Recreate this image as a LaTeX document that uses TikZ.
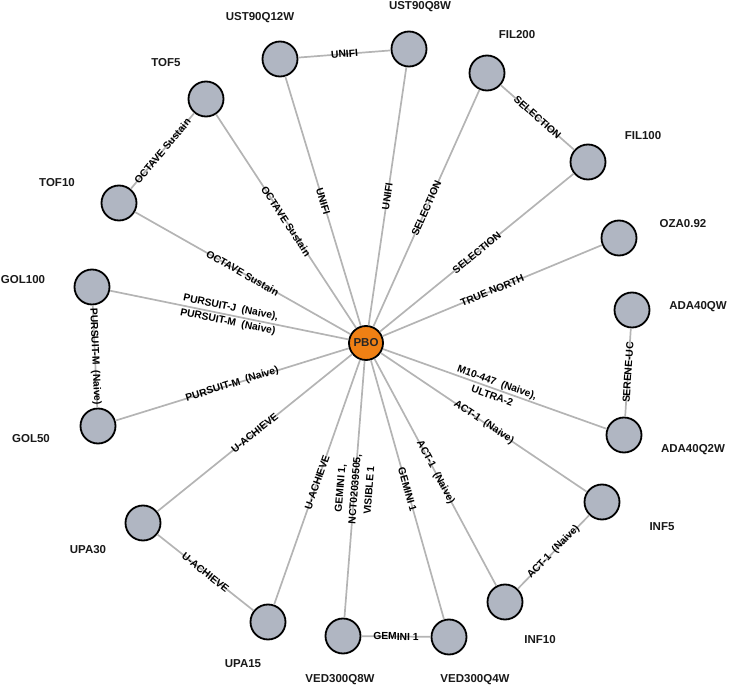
\documentclass[tikz,border=0pt]{standalone}
\usepackage{fontspec}
\setmainfont{Liberation Sans}
\definecolor{nodegray}{RGB}{176,182,194}
\definecolor{pboorange}{RGB}{239,128,20}
\definecolor{edgegray}{RGB}{180,180,180}
\tikzset{
  trial/.style={circle, draw=black, line width=1.8pt, fill=nodegray, minimum size=35pt, inner sep=0pt},
  pbo/.style={circle, draw=black, line width=1.8pt, fill=pboorange, minimum size=34pt, inner sep=0pt, font=\bfseries\fontsize{11.5}{13}\selectfont, text=black!85},
  tname/.style={font=\bfseries\fontsize{11.5}{13}\selectfont, inner sep=0pt, text=black!90},
  link/.style={draw=edgegray, line width=1.7pt},
  lab/.style={midway, sloped, font=\bfseries\fontsize{10.3}{14.5}\selectfont, align=center, inner sep=0pt, text=black}
}
\begin{document}
\begin{tikzpicture}[x=1pt, y=-1pt]
\useasboundingbox (0,0) rectangle (729,687);
% nodes
\node[pbo] (PBO) at (366,343) {PBO};
\node[trial] (U12) at (280,59) {};
\node[trial] (U8) at (409,49) {};
\node[trial] (F200) at (487,73) {};
\node[trial] (F100) at (588,162) {};
\node[trial] (OZA) at (619,238) {};
\node[trial] (A4) at (632,310) {};
\node[trial] (A2) at (624,435) {};
\node[trial] (I5) at (602,502) {};
\node[trial] (I10) at (505,602) {};
\node[trial] (V4) at (449,637) {};
\node[trial] (V8) at (343,636) {};
\node[trial] (P15) at (268,622) {};
\node[trial] (P30) at (143,523) {};
\node[trial] (G50) at (98,426) {};
\node[trial] (G100) at (92,287) {};
\node[trial] (T10) at (119,203) {};
\node[trial] (T5) at (206,99) {};
% names
\node[tname] (nU12) at (260,18) {UST90Q12W};
\node[tname] (nU8) at (420,7) {UST90Q8W};
\node[tname] (nF200) at (517,35) {FIL200};
\node[tname] (nF100) at (643,136) {FIL100};
\node[tname] (nOZA) at (683,224) {OZA0.92};
\node[tname] (nA4) at (698,307) {ADA40QW};
\node[tname] (nA2) at (693,450) {ADA40Q2W};
\node[tname] (nI5) at (662,527) {INF5};
\node[tname] (nI10) at (540,640) {INF10};
\node[tname] (nV4) at (475,680) {VED300Q4W};
\node[tname] (nV8) at (340,680) {VED300Q8W};
\node[tname] (nP15) at (243,664) {UPA15};
\node[tname] (nP30) at (88,550) {UPA30};
\node[tname] (nG50) at (31,439) {GOL50};
\node[tname] (nG100) at (23,280) {GOL100};
\node[tname] (nT10) at (57,183) {TOF10};
\node[tname] (nT5) at (166,63) {TOF5};
% edges
\draw[link] (U12) -- node[lab] {UNIFI} (U8);
\draw[link] (U12) -- node[lab] {UNIFI} (PBO);
\draw[link] (U8) -- node[lab] {UNIFI} (PBO);
\draw[link] (F200) -- node[lab] {SELECTION} (PBO);
\draw[link] (F200) -- node[lab] {SELECTION} (F100);
\draw[link] (F100) -- node[lab] {SELECTION} (PBO);
\draw[link] (OZA) -- node[lab] {TRUE NORTH} (PBO);
\draw[link] (A4) -- node[lab] {SERENE-UC} (A2);
\draw[link] (PBO) -- node[lab] {M10-447\ \ (Naive),\\ULTRA-2} (A2);
\draw[link] (PBO) -- node[lab] {ACT-1\ \ (Naive)} (I5);
\draw[link] (PBO) -- node[lab] {ACT-1\ \ (Naive)} (I10);
\draw[link] (I10) -- node[lab] {ACT-1\ \ (Naive)} (I5);
\draw[link] (PBO) -- node[lab] {GEMINI 1} (V4);
\draw[link] (V8) -- node[lab] {GEMINI 1,\\NCT02039505,\\VISIBLE 1} (PBO);
\draw[link] (V8) -- node[lab] {GEMINI 1} (V4);
\draw[link] (P15) -- node[lab] {U-ACHIEVE} (PBO);
\draw[link] (P30) -- node[lab] {U-ACHIEVE} (PBO);
\draw[link] (P30) -- node[lab] {U-ACHIEVE} (P15);
\draw[link] (G50) -- node[lab] {PURSUIT-M\ \ (Naive)} (PBO);
\draw[link] (G100) -- node[lab] {PURSUIT-M\ \ (Naive)} (G50);
\draw[link] (G100) -- node[lab] {PURSUIT-J\ \ (Naive),\\PURSUIT-M\ \ (Naive)} (PBO);
\draw[link] (T10) -- node[lab] {OCTAVE Sustain} (PBO);
\draw[link] (T5) -- node[lab] {OCTAVE Sustain} (PBO);
\draw[link] (T5) -- node[lab] {OCTAVE Sustain} (T10);
\end{tikzpicture}
\end{document}
